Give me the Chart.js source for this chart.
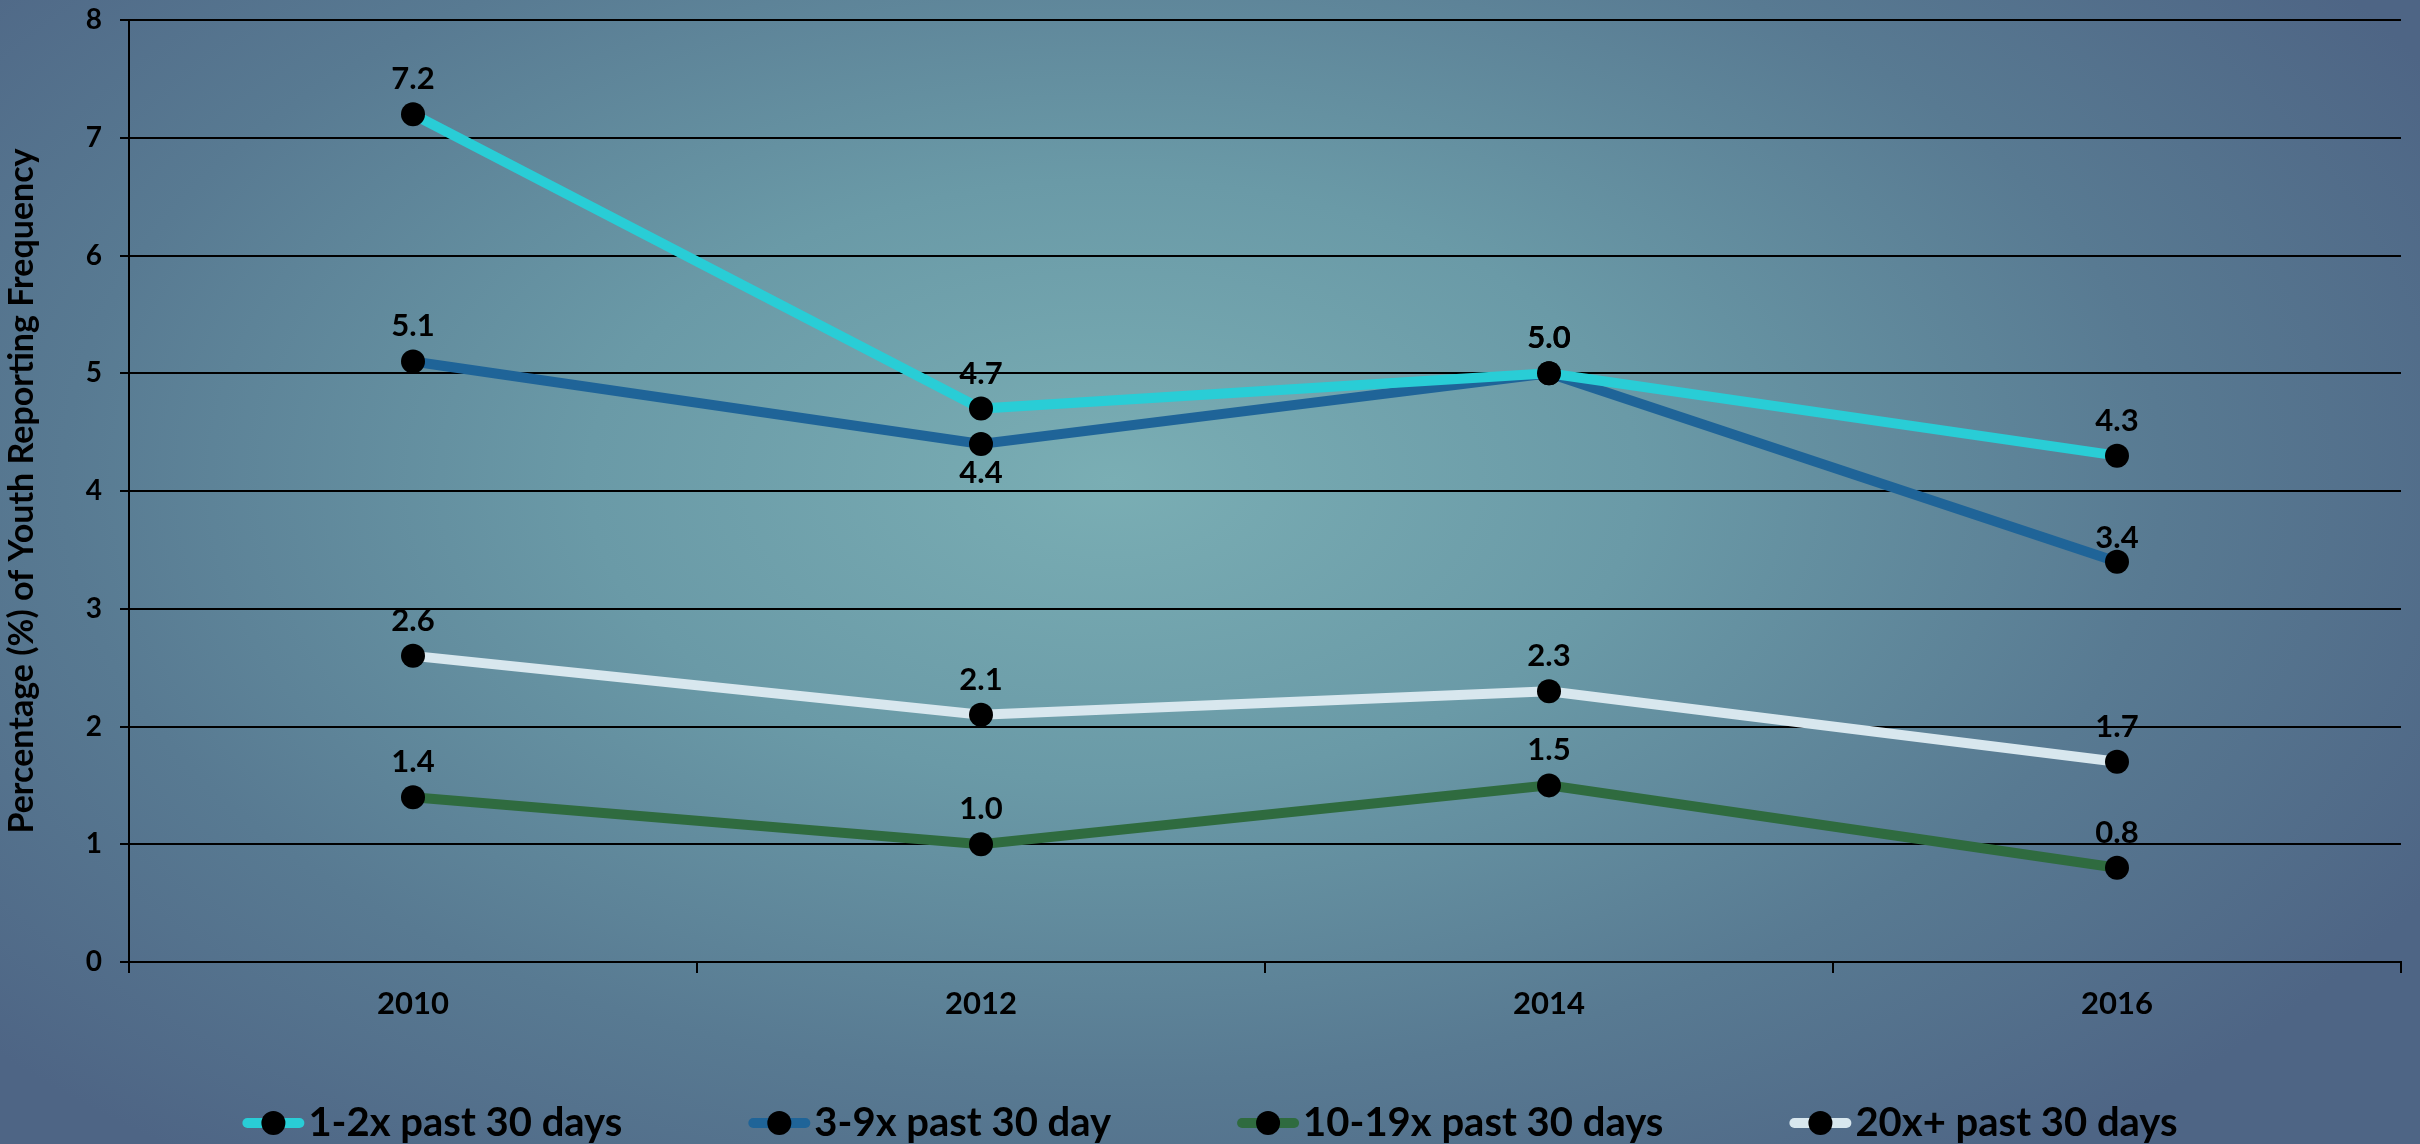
<!DOCTYPE html>
<html>
<head>
<meta charset="utf-8">
<script src="https://cdn.jsdelivr.net/npm/chart.js@4.4.1/dist/chart.umd.min.js"></script>
<style>
html, body { margin:0; padding:0; overflow:hidden; }
body {
    width:2420px; height:1144px;
    background: radial-gradient(ellipse 62% 75% at 46% 42%, #7aaeb4 0%, #6a9aa7 35%, #587a92 70%, #4e6585 100%);
}
#wrap { width:2420px; height:1144px; position:relative; }
</style>
</head>
<body>
<div id="wrap"><canvas id="chart"></canvas></div>
<script>
const years = ["2010", "2012", "2014", "2016"]
const seriesNames = ["1-2x past 30 days", "3-9x past 30 day", "10-19x past 30 days", "20x+ past 30 days"]
const oneToTwo = [7.2, 4.7, 5.0, 4.3]
const threeToNine = [5.1, 4.4, 5.0, 3.4]
const tenToNineteen = [1.4, 1.0, 1.5, 0.8]
const twentyPlus = [2.6, 2.1, 2.3, 1.7]
const yTicks = [0, 1, 2, 3, 4, 5, 6, 7, 8]

const FONT = "Lato, 'Open Sans', sans-serif"
const colors = ["#29cdd6", "#1f6498", "#2f6b3f", "#d8e7ee"]

// value labels above / below the points
const valueLabels = {
    id:"valueLabels",
    afterDatasetsDraw(chart){
        const ctx = chart.ctx
        ctx.save()
        ctx.font = "bold 31px " + FONT
        ctx.fillStyle = "#000"
        ctx.textAlign = "center"
        ctx.textBaseline = "middle"
        chart.data.datasets.forEach((ds,i)=>{
            const meta = chart.getDatasetMeta(i)
            meta.data.forEach((pt,j)=>{
                const off = ds.labelOffset ? ds.labelOffset[j] : -35
                ctx.fillText(ds.data[j].toFixed(1), pt.x, pt.y + off)
            })
        })
        ctx.restore()
    }
}

// bottom legend: line + dot marker then the series name
const lineLegend = {
    id:"lineLegend",
    afterDraw(chart){
        const ctx = chart.ctx
        const gap = 126, mw = 62, cy = 1123
        ctx.save()
        ctx.font = "bold 40px " + FONT
        const items = chart.data.datasets.map(ds=>({ds, w: mw + 4 + ctx.measureText(ds.label).width}))
        const total = items.reduce((s,it)=>s+it.w,0) + gap*(items.length-1)
        let x = (chart.width - total)/2
        items.forEach(it=>{
            ctx.strokeStyle = it.ds.borderColor
            ctx.lineWidth = 10
            ctx.lineCap = "round"
            ctx.beginPath(); ctx.moveTo(x+5,cy); ctx.lineTo(x+mw-5,cy); ctx.stroke()
            ctx.fillStyle = "#000"
            ctx.beginPath(); ctx.arc(x+mw/2,cy,12,0,Math.PI*2); ctx.fill()
            ctx.textAlign = "left"
            ctx.textBaseline = "middle"
            ctx.fillText(it.ds.label, x+mw+4, cy)
            x += it.w + gap
        })
        ctx.restore()
    }
}

function line(label, data, color, offs){
    return {
        label, data,
        borderColor: color,
        backgroundColor: color,
        borderWidth: 10,
        pointRadius: 12,
        pointHoverRadius: 12,
        pointBackgroundColor: "#000",
        pointBorderWidth: 0,
        tension: 0,
        labelOffset: offs
    }
}

new Chart(document.getElementById("chart"), {
    type: "line",
    data: {
        labels: years,
        datasets: [
            line(seriesNames[0], oneToTwo, colors[0], [-35,-35,-35,-35]),
            line(seriesNames[1], threeToNine, colors[1], [-35,29,-35,-24]),
            line(seriesNames[2], tenToNineteen, colors[2], [-35,-35,-35,-35]),
            line(seriesNames[3], twentyPlus, colors[3], [-35,-35,-35,-35])
        ]
    },
    options: {
        responsive: true,
        maintainAspectRatio: false,
        animation: false,
        layout: { padding: { top: 20, right: 19, left: 0, bottom: 128 } },
        plugins: {
            tooltip: { enabled: false },
            legend: { display: false }
        },
        scales: {
            x: {
                offset: true,
                grid: { offset: true, drawOnChartArea: false, color: "#000", lineWidth: 2, tickLength: 11 },
                border: { color: "#000", width: 2 },
                ticks: { color: "#000", font: { family: FONT, size: 31, weight: "bold" }, padding: 12 },
                afterFit(scale){ scale.height = 54 }
            },
            y: {
                min: 0, max: 8,
                afterBuildTicks(scale){ scale.ticks = yTicks.map(v=>({value:v})) },
                grid: { color: "#000", lineWidth: 2, tickLength: 9 },
                border: { color: "#000", width: 2 },
                ticks: { color: "#000", font: { family: FONT, size: 28, weight: "bold" }, padding: 18 },
                title: {
                    display: true,
                    text: "Percentage (%) of Youth Reporting Frequency",
                    color: "#000",
                    font: { family: FONT, size: 34, weight: "bold" },
                    padding: { top: 2, bottom: 0 }
                },
                afterFit(scale){
                    scale.width = 129
                    scale.paddingTop = 0
                    scale.paddingBottom = 0
                }
            }
        }
    },
    plugins: [valueLabels, lineLegend]
})
</script>
</body>
</html>
